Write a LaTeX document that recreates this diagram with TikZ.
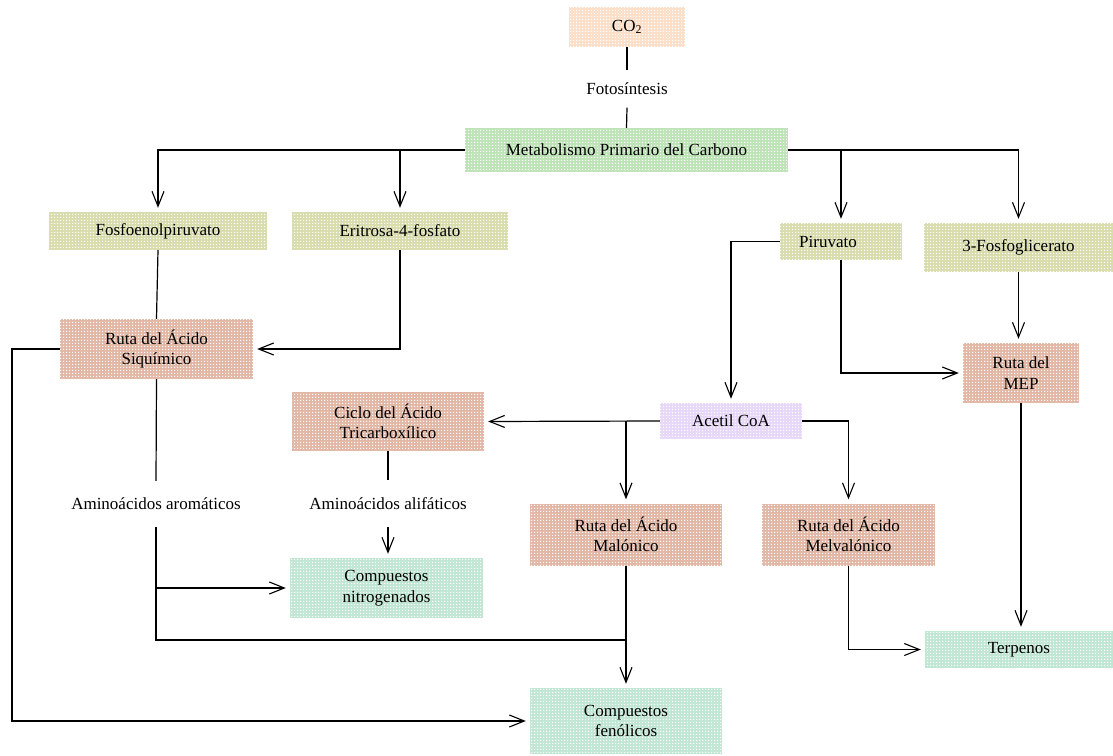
\documentclass[tikz,border=0pt]{standalone}
\usepackage{fontspec}
\setmainfont{Liberation Serif}
\usetikzlibrary{arrows.meta,patterns.meta}
\definecolor{cpeach}{HTML}{FCDFC9}
\definecolor{cgreen}{HTML}{BEE3B7}
\definecolor{ckhaki}{HTML}{D9DCAC}
\definecolor{csalmon}{HTML}{E3B7A5}
\definecolor{clav}{HTML}{E7D7F9}
\definecolor{cmint}{HTML}{C1E7D4}
\tikzdeclarepattern{
  name=cells,
  type=uncolored,
  bottom left={(0pt,0pt)},
  top right={(3pt,3pt)},
  tile size={(3pt,3pt)},
  code={\fill (0pt,0pt) rectangle (1.6pt,1.6pt);}
}
\tikzset{
  bx/.style={draw=none, align=center, inner sep=0pt, font=\rmfamily\fontsize{17}{20.5}\selectfont,
    postaction={pattern=cells, pattern color=white}},
  txt/.style={inner sep=0pt, align=center, font=\rmfamily\fontsize{17}{20.5}\selectfont},
  ln/.style={line width=1.2pt, black},
  arr/.style={ln, -{Straight Barb[length=15pt,width=12pt,line width=1.1pt]}, shorten >=4pt},
}
\begin{document}
\begin{tikzpicture}[x=1pt,y=-1pt]
\useasboundingbox (0,0) rectangle (1113,755);
% nodes
\node[bx, fill=cpeach, minimum width=116, minimum height=40] (co2) at (627,27) {CO\textsubscript{2}};
\node[txt, minimum height=37] (foto) at (627,89) {Fotosíntesis};
\node[bx, fill=cgreen, minimum width=323, minimum height=44] (met) at (626.5,150) {Metabolismo Primario del Carbono};
\node[bx, fill=ckhaki, minimum width=218, minimum height=38] (fpep) at (158,231) {Fosfoenolpiruvato};
\node[bx, fill=ckhaki, minimum width=216, minimum height=38] (e4p) at (400,231) {Eritrosa-4-fosfato};
\node[bx, fill=ckhaki, minimum width=122, minimum height=37] (pir) at (841,241.5) {Piruvato\hspace{26pt}};
\node[bx, fill=ckhaki, minimum width=189, minimum height=49] (pga) at (1018.5,247.5) {3-Fosfoglicerato};
\node[bx, fill=csalmon, minimum width=193, minimum height=60] (shik) at (156.5,349) {Ruta del Ácido\\Siquímico};
\node[bx, fill=csalmon, minimum width=116, minimum height=60] (mep) at (1021,373) {Ruta del\\MEP};
\node[bx, fill=clav, minimum width=142, minimum height=36] (acoa) at (731,421) {Acetil CoA};
\node[bx, fill=csalmon, minimum width=192, minimum height=59] (tca) at (388,421.5) {Ciclo del Ácido\\Tricarboxílico};
\node[bx, fill=csalmon, minimum width=192, minimum height=62] (mal) at (626,534.5) {Ruta del Ácido\\Malónico};
\node[bx, fill=csalmon, minimum width=173, minimum height=62] (mev) at (848.5,534.5) {Ruta del Ácido\\Melvalónico};
\node[txt, minimum height=46] (aro) at (156,504) {Aminoácidos aromáticos};
\node[txt, minimum height=47] (ali) at (388,503.5) {Aminoácidos alifáticos};
\node[bx, fill=cmint, minimum width=193, minimum height=60] (nit) at (386.5,588) {Compuestos\\nitrogenados};
\node[bx, fill=cmint, minimum width=188, minimum height=37] (terp) at (1019,649.5) {Terpenos};
\node[bx, fill=cmint, minimum width=192, minimum height=66] (fen) at (626,721) {Compuestos\\fenólicos};
\coordinate (lft) at (12,349);
\coordinate (jn) at (156,640);
% connectors
\draw[ln] (co2.south) -- (foto.north);
\draw[ln] (foto.south) -- (met.north);
\draw[arr] (met.west) -| (fpep.north);
\draw[arr] (met.west -| e4p.north) -- (e4p.north);
\draw[arr] (met.east) -| (pga.north);
\draw[arr] (met.east -| pir.north) -- (pir.north);
\draw[ln] (fpep.south) -- (shik.north);
\draw[arr] (e4p.south) |- (shik.east);
\draw[arr] (shik.west) -- (lft) |- (fen.west);
\draw[ln] (shik.south) -- (aro.north);
\draw[ln] (aro.south) -- (jn) -- (jn -| mal.south);
\draw[arr] (aro.south |- nit.west) -- (nit.west);
\draw[arr] (pir.west) -| (acoa.north);
\draw[arr] (pir.south) |- (mep.west);
\draw[arr] (pga.south) -- (pga.south |- mep.north);
\draw[arr] (mep.south) -- (mep.south |- terp.north);
\draw[arr] (acoa.west) -- (tca.east);
\draw[arr] (acoa.west -| mal.north) -- (mal.north);
\draw[arr] (acoa.east) -| (mev.north);
\draw[ln] (tca.south) -- (ali.north);
\draw[arr] (ali.south) -- (ali.south |- nit.north);
\draw[arr] (mal.south) -- (fen.north);
\draw[arr] (mev.south) |- (terp.west);
\end{tikzpicture}
\end{document}
